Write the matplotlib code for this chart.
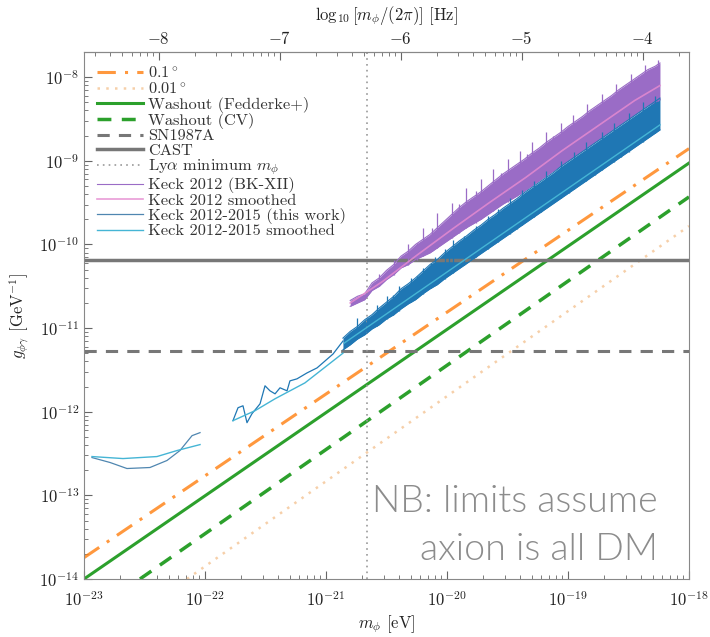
import numpy as np
import matplotlib
matplotlib.use('Agg')
import matplotlib.pyplot as plt
from matplotlib.ticker import FuncFormatter, FixedLocator, NullFormatter

plt.rcParams['mathtext.fontset'] = 'cm'
plt.rcParams['font.family'] = ['cmr10', 'DejaVu Serif']
plt.rcParams['axes.formatter.use_mathtext'] = True
plt.rcParams['axes.unicode_minus'] = True

# ---------------- data ----------------
xlim = [1e-23, 1e-18]
ylim = [1e-14, 2e-8]
x_decades = [1e-23, 1e-22, 1e-21, 1e-20, 1e-19, 1e-18]
y_decades = [1e-14, 1e-13, 1e-12, 1e-11, 1e-10, 1e-9, 1e-8]
f_decades = [1e-8, 1e-7, 1e-6, 1e-5, 1e-4]

# straight projected limits: two end points each (m [eV], g [GeV^-1])
m_01deg = [1e-23, 1e-18]
g_01deg = [1.8e-14, 1.4e-9]
m_001deg = [7.1e-23, 1e-18]
g_001deg = [1e-14, 1.66e-10]
m_wash_f = [1e-23, 1e-18]
g_wash_f = [1e-14, 9.4e-10]
m_wash_cv = [2.9e-23, 1e-18]
g_wash_cv = [1e-14, 3.7e-10]
g_sn1987a = 5.3e-12
g_cast = 6.6e-11
m_lya = 2.2e-21

# Keck 2012-2015 (this work), low-mass pieces (log10 values)
k15a_logm = [-22.934, -22.785, -22.645, -22.455, -22.314, -22.207, -22.107, -22.041]
k15a_logg = [-12.548, -12.607, -12.679, -12.667, -12.583, -12.464, -12.286, -12.250]
k15a_s_logm = [-22.934, -22.678, -22.397, -22.231, -22.041]
k15a_s_logg = [-12.536, -12.560, -12.536, -12.464, -12.393]

k15b_logm = [-21.769, -21.727, -21.686, -21.653, -21.612, -21.545, -21.504, -21.463,
             -21.421, -21.380, -21.322, -21.298, -21.240, -21.157, -21.074, -21.008,
             -20.942, -20.860]
k15b_logg = [-12.107, -11.952, -11.929, -12.131, -12.024, -11.905, -11.690, -11.750,
             -11.786, -11.714, -11.750, -11.631, -11.607, -11.536, -11.476, -11.393,
             -11.310, -11.155]
k15b_s_logm = [-21.769, -21.587, -21.421, -21.174, -20.860]
k15b_s_logg = [-12.107, -11.988, -11.845, -11.655, -11.300]

# Keck 2012-2015 dense band: lower edge and upper envelope
k15c_logm = [-20.86, -20.80, -20.74, -20.68, -20.62, -20.56, -20.50, -20.44, -20.38,
             -20.32, -20.26, -20.20, -20.14, -20.08, -20.02, -19.96, -19.90, -19.84,
             -19.78, -19.72, -19.66, -19.60, -19.54, -19.48, -19.42, -19.36, -19.30,
             -19.24, -19.18, -19.12, -19.06, -19.00, -18.94, -18.88, -18.82, -18.76,
             -18.70, -18.64, -18.58, -18.52, -18.46, -18.40, -18.34, -18.28, -18.24]
k15c_lo = [-11.26, -11.20, -11.13, -11.08, -11.01, -10.96, -10.89, -10.84, -10.77,
           -10.71, -10.66, -10.59, -10.53, -10.48, -10.41, -10.35, -10.29, -10.23,
           -10.17, -10.11, -10.05, -9.99, -9.93, -9.87, -9.81, -9.75, -9.69,
           -9.63, -9.57, -9.51, -9.45, -9.39, -9.33, -9.27, -9.21, -9.15,
           -9.09, -9.03, -8.97, -8.91, -8.85, -8.79, -8.73, -8.67, -8.63]
k15c_hi = [-11.12, -11.04, -10.98, -10.90, -10.84, -10.76, -10.69, -10.62, -10.53,
           -10.47, -10.40, -10.32, -10.24, -10.18, -10.10, -10.03, -9.96, -9.90,
           -9.83, -9.77, -9.70, -9.64, -9.57, -9.51, -9.45, -9.38, -9.32,
           -9.26, -9.20, -9.14, -9.07, -9.01, -8.95, -8.89, -8.83, -8.77,
           -8.71, -8.65, -8.59, -8.53, -8.47, -8.41, -8.35, -8.29, -8.25]
# spikes above the envelope
k15_sp_logm = [-20.74, -20.66, -20.58, -20.50, -20.45, -20.40, -20.30, -20.25, -20.20,
               -20.13, -20.10, -20.02, -19.98, -19.95, -19.86, -19.80, -19.76, -19.66,
               -19.61, -19.58, -19.48, -19.42, -19.38, -19.28, -19.22, -19.18, -19.06,
               -18.99, -18.95, -18.85, -18.78, -18.72, -18.62, -18.56, -18.50, -18.38,
               -18.33, -18.28]
k15_sp_lo = [-11.13, -11.05, -10.97, -10.89, -10.84, -10.79, -10.69, -10.64, -10.59,
             -10.52, -10.49, -10.41, -10.37, -10.34, -10.25, -10.19, -10.15, -10.05,
             -10.00, -9.97, -9.87, -9.81, -9.77, -9.67, -9.61, -9.57, -9.45,
             -9.38, -9.34, -9.24, -9.17, -9.11, -9.01, -8.95, -8.89, -8.77,
             -8.72, -8.67]
k15_sp_hi = [-10.88, -10.88, -10.72, -10.62, -10.60, -10.50, -10.40, -10.38, -10.28,
             -10.22, -10.15, -10.05, -10.12, -9.95, -9.90, -9.92, -9.78, -9.66,
             -9.70, -9.58, -9.45, -9.52, -9.35, -9.24, -9.30, -9.12, -9.00,
             -9.05, -8.90, -8.78, -8.85, -8.66, -8.55, -8.60, -8.43, -8.30,
             -8.36, -8.22]
k15c_s_logm = [-20.85, -20.55, -20.25, -19.95, -19.65, -19.35, -19.05, -18.75, -18.45, -18.24]
k15c_s = [-11.18, -10.88, -10.58, -10.28, -9.98, -9.68, -9.38, -9.08, -8.78, -8.57]

# Keck 2012 (BK-XII): lower edge and upper envelope
k12_logm = [-20.80, -20.74, -20.68, -20.62, -20.56, -20.50, -20.44, -20.38, -20.32,
            -20.26, -20.20, -20.14, -20.08, -20.02, -19.96, -19.90, -19.84, -19.78,
            -19.72, -19.66, -19.60, -19.54, -19.48, -19.42, -19.36, -19.30, -19.24,
            -19.18, -19.12, -19.06, -19.00, -18.94, -18.88, -18.82, -18.76, -18.70,
            -18.64, -18.58, -18.52, -18.46, -18.40, -18.34, -18.28, -18.24]
k12_lo = [-10.74, -10.70, -10.66, -10.55, -10.50, -10.42, -10.36, -10.28, -10.24,
          -10.18, -10.14, -10.10, -10.04, -9.98, -9.92, -9.86, -9.80, -9.75,
          -9.70, -9.64, -9.58, -9.52, -9.47, -9.42, -9.36, -9.30, -9.24,
          -9.18, -9.12, -9.06, -9.00, -8.94, -8.88, -8.82, -8.76, -8.70,
          -8.64, -8.58, -8.52, -8.46, -8.40, -8.34, -8.30, -8.27]
k12_hi = [-10.67, -10.62, -10.59, -10.46, -10.40, -10.31, -10.24, -10.14, -10.08,
          -10.00, -9.94, -9.88, -9.80, -9.72, -9.64, -9.56, -9.49, -9.43,
          -9.37, -9.30, -9.23, -9.16, -9.10, -9.04, -8.98, -8.91, -8.85,
          -8.78, -8.72, -8.66, -8.59, -8.53, -8.47, -8.40, -8.34, -8.28,
          -8.22, -8.15, -8.09, -8.03, -7.97, -7.91, -7.87, -7.83]
k12_sp_logm = [-20.56, -20.44, -20.32, -20.25, -20.20, -20.12, -20.08, -19.96, -19.90,
               -19.84, -19.76, -19.72, -19.62, -19.55, -19.50, -19.40, -19.34, -19.30,
               -19.18, -19.12, -19.06, -18.96, -18.90, -18.84, -18.72, -18.66, -18.60,
               -18.48, -18.42, -18.36, -18.26]
k12_sp_lo = [-10.50, -10.36, -10.24, -10.18, -10.14, -10.08, -10.04, -9.92, -9.86,
             -9.80, -9.74, -9.70, -9.60, -9.53, -9.49, -9.40, -9.34, -9.30,
             -9.18, -9.12, -9.06, -8.96, -8.90, -8.84, -8.72, -8.66, -8.60,
             -8.48, -8.42, -8.36, -8.28]
k12_sp_hi = [-10.35, -10.18, -10.00, -9.98, -9.80, -9.80, -9.62, -9.50, -9.52,
             -9.33, -9.36, -9.22, -9.10, -9.14, -8.98, -8.88, -8.92, -8.78,
             -8.66, -8.70, -8.55, -8.45, -8.50, -8.32, -8.20, -8.26, -8.08,
             -7.96, -8.00, -7.86, -7.80]
k12_s_logm = [-20.80, -20.53, -20.25, -19.95, -19.65, -19.35, -19.05, -18.75, -18.45, -18.24]
k12_s = [-10.70, -10.44, -10.13, -9.81, -9.50, -9.20, -8.88, -8.58, -8.28, -8.10]

h_eVs = 4.135667696e-15

# ---------------- figure ----------------
fig = plt.figure(figsize=(7.10, 6.37), dpi=100)
ax = fig.add_axes([84/710, 1-579/637, (689-84)/710, (579-52)/637])
ax.set_xscale('log')
ax.set_yscale('log')
ax.set_xlim(xlim)
ax.set_ylim(ylim)

P = lambda a: 10**np.asarray(a, dtype=float)

l1, = ax.plot(m_01deg, g_01deg, color='#ff7f0e', lw=2.2, alpha=0.8,
              dashes=(6, 3, 1, 3), label=r'$0.1^\circ$')
l2, = ax.plot(m_001deg, g_001deg, color='#f0b070', lw=1.8, alpha=0.6,
              dashes=(1, 2.5), label=r'$0.01^\circ$')
l3, = ax.plot(m_wash_f, g_wash_f, color='#2ca02c', lw=2.2, label='Washout (Fedderke+)')
l4, = ax.plot(m_wash_cv, g_wash_cv, color='#2ca02c', lw=2.5, dashes=(4, 3),
              label='Washout (CV)')
l5 = ax.axhline(g_sn1987a, color='#777777', lw=2.2, dashes=(4, 3), label='SN1987A')
l6 = ax.axhline(g_cast, color='#777777', lw=2.5, label='CAST')
l7 = ax.axvline(m_lya, color='#999999', lw=1.2, dashes=(1, 2.5),
                label=r'Ly$\alpha$ minimum $m_\phi$')

# Keck 2012
c12 = '#9a6cc6'
ax.fill_between(P(k12_logm), P(k12_lo), P(k12_hi), color=c12, lw=0)
l8, = ax.plot(P(k12_logm), P(k12_hi), color=c12, lw=0.8, label='Keck 2012 (BK-XII)')
ax.plot(P(k12_logm), P(k12_lo), color=c12, lw=0.8)
ax.vlines(P(k12_sp_logm), P(k12_sp_lo), P(k12_sp_hi), color=c12, lw=0.9)
l9, = ax.plot(P(k12_s_logm), P(k12_s), color='#e58ad0', lw=1.2, alpha=0.85,
              label='Keck 2012 smoothed')

# Keck 2012-2015
c15 = '#1f77b4'
ax.fill_between(P(k15c_logm), P(k15c_lo), P(k15c_hi), color=c15, lw=0)
ax.vlines(P(k15_sp_logm), P(k15_sp_lo), P(k15_sp_hi), color=c15, lw=0.9)
l10, = ax.plot(P(k15a_logm), P(k15a_logg), color='#4f86b0', lw=0.9,
               label='Keck 2012-2015 (this work)')
ax.plot(P(k15b_logm), P(k15b_logg), color=c15, lw=0.9)
ax.plot(P(k15c_logm), P(k15c_hi), color=c15, lw=0.8)
ax.plot(P(k15c_logm), P(k15c_lo), color=c15, lw=0.8)
l11, = ax.plot(P(k15a_s_logm), P(k15a_s_logg), color='#45b5d5', lw=1.0,
               label='Keck 2012-2015 smoothed')
ax.plot(P(k15b_s_logm), P(k15b_s_logg), color='#45b5d5', lw=1.0)
ax.plot(P(k15c_s_logm), P(k15c_s), color='#45b5d5', lw=1.0)

# axes styling
minor_x = [k * d for d in x_decades[:-1] for k in range(2, 10)]
minor_y = [k * d for d in y_decades for k in range(2, 10) if k * d < ylim[1]]
for s in ax.spines.values():
    s.set_color('#888888')
ax.tick_params(which='both', direction='in', top=False, right=False,
               color='#666666', labelsize=12, labelcolor='#222222')
ax.tick_params(which='major', length=6)
ax.tick_params(which='minor', length=3)
ax.tick_params(axis='x', which='major', pad=8)
ax.xaxis.set_major_locator(FixedLocator(x_decades))
ax.yaxis.set_major_locator(FixedLocator(y_decades))
ax.xaxis.set_minor_locator(FixedLocator(minor_x))
ax.yaxis.set_minor_locator(FixedLocator(minor_y))
ax.xaxis.set_minor_formatter(NullFormatter())
ax.yaxis.set_minor_formatter(NullFormatter())

ax.set_xlabel(r'$m_\phi$ [eV]', fontsize=12, color='#222222', labelpad=3)
ax.set_ylabel(r'$g_{\phi\gamma}$ [GeV$^{-1}$]', fontsize=12, color='#222222', labelpad=6)

fmin = xlim[0] / h_eVs
fmax = xlim[1] / h_eVs
minor_f = [k * d for d in [1e-9] + f_decades for k in range(2, 10) if fmin < k * d < fmax]
sec = ax.secondary_xaxis('top', functions=(lambda m: m / h_eVs, lambda f: f * h_eVs))
sec.xaxis.set_major_locator(FixedLocator(f_decades))
sec.xaxis.set_minor_locator(FixedLocator(minor_f))
sec.xaxis.set_major_formatter(FuncFormatter(lambda v, p: r'$%d$' % int(round(np.log10(v)))))
sec.xaxis.set_minor_formatter(NullFormatter())
sec.tick_params(which='both', direction='in', color='#666666', labelsize=12,
                labelcolor='#222222')
sec.tick_params(which='major', length=6)
sec.tick_params(which='minor', length=3)
sec.spines['top'].set_color('#888888')
sec.set_xlabel(r'$\log_{10}[m_\phi/(2\pi)]$ [Hz]', fontsize=12, color='#222222', labelpad=7)

leg = ax.legend(handles=[l1, l2, l3, l4, l5, l6, l7, l8, l9, l10, l11],
                loc='upper left', bbox_to_anchor=(0.0, 1.0), frameon=False,
                fontsize=11.8, handlelength=2.8, handletextpad=0.3,
                labelspacing=0.0, borderaxespad=0.4)
for t in leg.get_texts():
    t.set_color('#333333')

fig.text(658/710, 1-512/637, 'NB: limits assume', ha='right', va='baseline',
         fontsize=27, color='#8c8c8c', family=['Lato', 'DejaVu Sans'], fontweight=300)
fig.text(658/710, 1-560/637, 'axion is all DM', ha='right', va='baseline',
         fontsize=27, color='#8c8c8c', family=['Lato', 'DejaVu Sans'], fontweight=300)

fig.savefig('out.png', dpi=100)
